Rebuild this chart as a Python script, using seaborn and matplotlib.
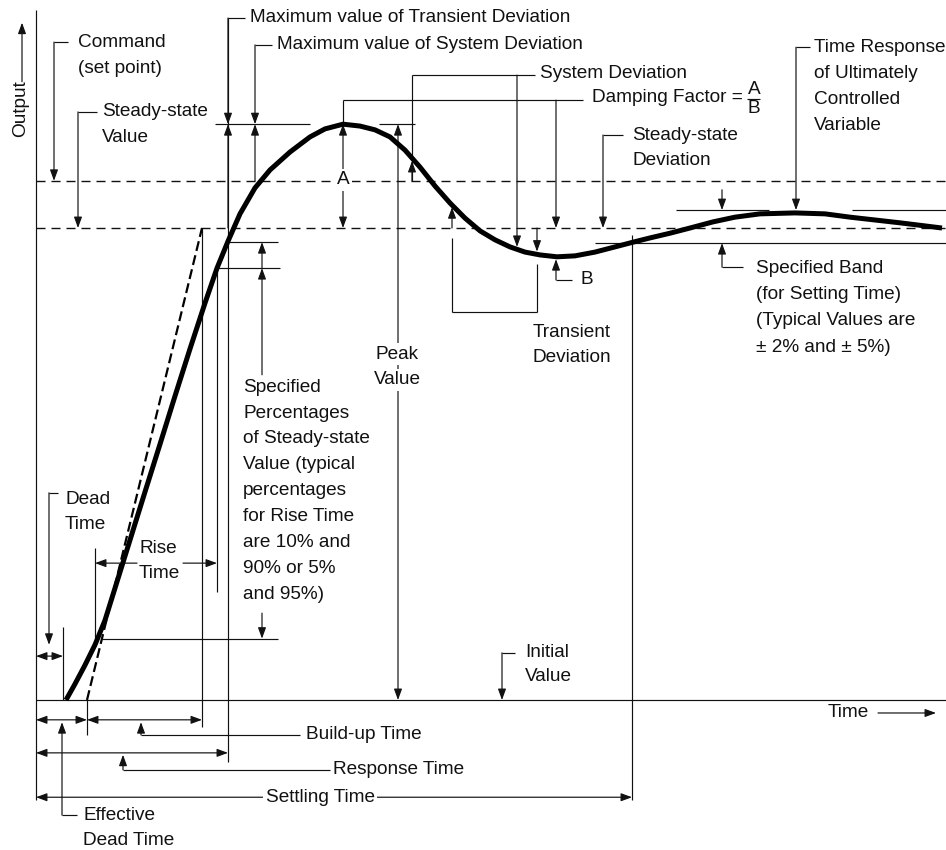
import matplotlib
matplotlib.use("Agg")
import matplotlib.pyplot as plt
import pandas as pd
import seaborn as sns

# Step response of the controlled variable
# (time in arbitrary units, output in % of the steady-state value)
time = [30, 39, 49, 59, 69, 79, 94, 109, 124, 139, 154, 169, 181, 192, 204,
        219, 234, 254, 274, 289, 307, 324, 339, 354, 369, 384, 399, 414, 429,
        444, 459, 474, 489, 504, 521, 539, 559, 579, 597, 614, 634, 654, 677,
        699, 724, 759, 789, 814, 839, 864, 906]
output = [0, 3.4, 7.4, 11.7, 16.9, 23.7, 33.9, 44.1, 54.2, 64.4, 74.4, 84.1,
          91.5, 97.2, 103.0, 108.5, 112.3, 116.1, 119.3, 121.0, 122.0, 121.6,
          120.8, 119.3, 116.5, 112.9, 108.9, 105.3, 102.1, 99.4, 97.5, 96.0,
          94.9, 94.3, 93.9, 94.1, 94.9, 96.0, 97.0, 97.9, 98.9, 100.0, 101.3,
          102.3, 103.0, 103.2, 103.0, 102.3, 101.7, 101.1, 100.0]

# Tangent through the steepest part of the rise
tangent_time = [51, 166]
tangent_output = [0, 100]

# Reference levels (% of steady state)
SETPOINT = 110.0
STEADY = 100.0
BAND = [96.8, 103.8]
RISE_LEVELS = [13.0, 91.5, 97.0]

# Characteristic times
T_DEAD = 27
T_EFFECTIVE = 51
T_RISE_START = 59
T_BUILDUP = 166
T_RISE_END = 181
T_RESPONSE = 192
T_SETTLING = 596
T_END = 910

PEAK = max(output)

sns.set_style("white")
plt.rcParams["font.family"] = ["Liberation Sans", "DejaVu Sans"]

INK = "#111111"
THIN = 0.85
FS = 13.7

fig = plt.figure(figsize=(9.46, 8.5), dpi=100)
ax = fig.add_axes([0, 0, 1, 1])
ax.set_xlim(-36, 910)
ax.set_ylim(-31.78, 148.31)
ax.axis("off")


def seg(xs, ys):
    ax.plot(xs, ys, color=INK, lw=THIN, solid_capstyle="butt", zorder=2)


def arr(x0, y0, x1, y1, both=False):
    style = ("<|-|>" if both else "-|>") + ",head_length=0.6,head_width=0.22"
    ax.annotate("", xy=(x1, y1), xytext=(x0, y0),
                arrowprops=dict(arrowstyle=style, lw=THIN, color=INK,
                                shrinkA=0, shrinkB=0, mutation_scale=11),
                zorder=3)


def txt(x, y, lines, step=5.5, ha="left", box=False):
    out = []
    for i, line in enumerate(lines):
        kw = {}
        if box:
            kw["bbox"] = dict(boxstyle="square,pad=0.12", fc="white", ec="none")
        out.append(ax.text(x, y - i * step, line, ha=ha, va="center",
                           fontsize=FS, color=INK, zorder=4, **kw))
    return out


# axes of the diagram
seg([0, 0], [-21.2, 146.2])
seg([0, T_END], [0, 0])
for level in (SETPOINT, STEADY):
    ax.plot([0, T_END], [level, level], color=INK, lw=1.0,
            linestyle=(0, (6.5, 4.3)), zorder=1)

# response curve and tangent
df = pd.DataFrame({"time": time, "output": output})
sns.lineplot(data=df, x="time", y="output", ax=ax, color="black", lw=3.6,
             estimator=None, sort=False, zorder=5,
             solid_joinstyle="round", solid_capstyle="butt")
sns.lineplot(x=tangent_time, y=tangent_output, ax=ax, color="black", lw=1.6,
             linestyle=(0, (4.5, 2.0)), estimator=None, zorder=5)

# axis titles
ax.text(-15.5, 125.4, "Output", rotation=90, ha="center", va="center",
        fontsize=FS, color=INK)
arr(-14, 131.0, -14, 143.5)
ax.text(792, -2.75, "Time", ha="left", va="center", fontsize=FS, color=INK)
arr(842, -2.75, 900, -2.75)

# command and steady-state value
seg([18, 32], [139.4, 139.4])
arr(18, 139.4, 18, SETPOINT)
txt(42, 139.4, ["Command", "(set point)"])
seg([42, 61], [124.6, 124.6])
arr(42, 124.6, 42, STEADY)
txt(66, 124.6, ["Steady-state", "Value"])

# maximum deviations
seg([T_RESPONSE, T_RESPONSE], [-13.1, 144.5])
seg([T_RESPONSE, 209], [144.5, 144.5])
arr(T_RESPONSE, 144.5, T_RESPONSE, PEAK)
arr(T_RESPONSE, STEADY, T_RESPONSE, PEAK)
txt(214, 144.5, ["Maximum value of Transient Deviation"])
seg([219, 236], [138.8, 138.8])
arr(219, 138.8, 219, PEAK)
arr(219, SETPOINT, 219, PEAK)
txt(241, 138.8, ["Maximum value of System Deviation"])
seg([179, 274], [PEAK, PEAK])
seg([343, 379], [PEAK, PEAK])

# damping factor A / B
arr(307, STEADY, 307, PEAK, both=True)
txt(307, 110.2, ["A"], ha="center", box=True)
seg([307, 307], [PEAK, 127.1])
seg([307, 547], [127.1, 127.1])
arr(520, 127.1, 520, STEADY)
label = txt(556, 127.6, ["Damping Factor ="])[0]
renderer = fig.canvas.get_renderer()
bb = label.get_window_extent(renderer)
frac_x = ax.transData.inverted().transform((bb.x1, bb.y0))[0] + 11
txt(frac_x, 129.4, ["A"], ha="center")
seg([frac_x - 6.5, frac_x + 6.5], [127.3, 127.3])
txt(frac_x, 125.4, ["B"], ha="center")
arr(520, 89.0, 520, 93.4)
seg([520, 536], [89.0, 89.0])
txt(544, 89.0, ["B"])

# system deviation
seg([376, 376], [SETPOINT, 132.4])
arr(376, SETPOINT, 376, 114.2)
seg([376, 499], [132.4, 132.4])
arr(481, 132.4, 481, 96.0)
txt(504, 132.8, ["System Deviation"])

# transient deviation
arr(416, STEADY, 416, 104.4)
seg([416, 416], [97.9, 82.2])
seg([416, 501], [82.2, 82.2])
seg([501, 501], [82.2, 92.4])
arr(501, STEADY, 501, 95.0)
txt(536, 77.8, ["Transient", "Deviation"], step=5.3, ha="center")

# peak value
arr(362, 0, 362, PEAK, both=True)
txt(361, 73.3, ["Peak", "Value"], ha="center", box=True)

# steady-state deviation
seg([567, 587], [119.7, 119.7])
arr(567, 119.7, 567, STEADY)
txt(596, 119.7, ["Steady-state", "Deviation"], step=5.3)

# time response label
seg([760, 774], [138.3, 138.3])
arr(760, 138.3, 760, 103.8)
txt(778, 138.3, ["Time Response", "of Ultimately", "Controlled", "Variable"])

# settling band
seg([640, 733], [BAND[1], BAND[1]])
seg([816, T_END], [BAND[1], BAND[1]])
arr(686, 108.1, 686, BAND[1])
seg([559, T_END], [BAND[0], BAND[0]])
arr(686, 91.7, 686, BAND[0])
seg([686, 707], [91.7, 91.7])
txt(720, 91.5, ["Specified Band", "(for Setting Time)", "(Typical Values are",
                "± 2% and ± 5%)"], step=5.6)

# settling time
seg([T_SETTLING, T_SETTLING], [-21.2, 98.5])
arr(0, -20.6, T_SETTLING, -20.6, both=True)
txt(284, -20.6, ["Settling Time"], ha="center", box=True)

# specified percentages for rise time
seg([T_RESPONSE, 242], [RISE_LEVELS[2], RISE_LEVELS[2]])
seg([T_RISE_END, 244], [RISE_LEVELS[1], RISE_LEVELS[1]])
seg([66, 242], [RISE_LEVELS[0], RISE_LEVELS[0]])
arr(226, RISE_LEVELS[1], 226, RISE_LEVELS[2])
arr(226, 68.9, 226, RISE_LEVELS[1])
arr(226, 18.4, 226, RISE_LEVELS[0])
txt(207, 66.3, ["Specified", "Percentages", "of Steady-state",
                "Value (typical", "percentages", "for Rise Time",
                "are 10% and", "90% or 5%", "and 95%)"])

# build-up / rise end verticals
seg([T_BUILDUP, T_BUILDUP], [-5.7, STEADY])
seg([T_RISE_END, T_RISE_END], [22.9, RISE_LEVELS[1]])

# rise time
seg([T_RISE_START, T_RISE_START], [13.1, 32.2])
arr(101, 29.0, T_RISE_START, 29.0)
arr(147, 29.0, T_RISE_END, 29.0)
txt(103, 32.0, ["Rise", "Time"], step=5.3)

# dead time
seg([13, 22], [43.9, 43.9])
arr(13, 43.9, 13, 11.7)
txt(29, 42.4, ["Dead", "Time"], step=5.3)
arr(0, 9.3, T_DEAD, 9.3, both=True)
seg([T_DEAD, T_DEAD], [0, 15.5])

# times along the bottom
arr(0, -4.2, T_EFFECTIVE, -4.2, both=True)
arr(T_EFFECTIVE, -4.2, T_BUILDUP, -4.2, both=True)
seg([T_EFFECTIVE, T_EFFECTIVE], [-7.4, 0])
arr(26, -24.4, 26, -4.7)
seg([26, 41], [-24.4, -24.4])
txt(47, -24.4, ["Effective", "Dead Time"], step=5.3)
arr(105, -7.4, 105, -4.7)
seg([105, 264], [-7.4, -7.4])
txt(270, -7.4, ["Build-up Time"])
arr(0, -11.2, T_RESPONSE, -11.2, both=True)
arr(87, -14.8, 87, -11.6)
seg([87, 294], [-14.8, -14.8])
txt(297, -14.8, ["Response Time"])

# initial value
seg([466, 479], [10.0, 10.0])
arr(466, 10.0, 466, 0)
txt(489, 10.0, ["Initial", "Value"], step=5.1)

fig.savefig("out.png", dpi=100, facecolor="white")
